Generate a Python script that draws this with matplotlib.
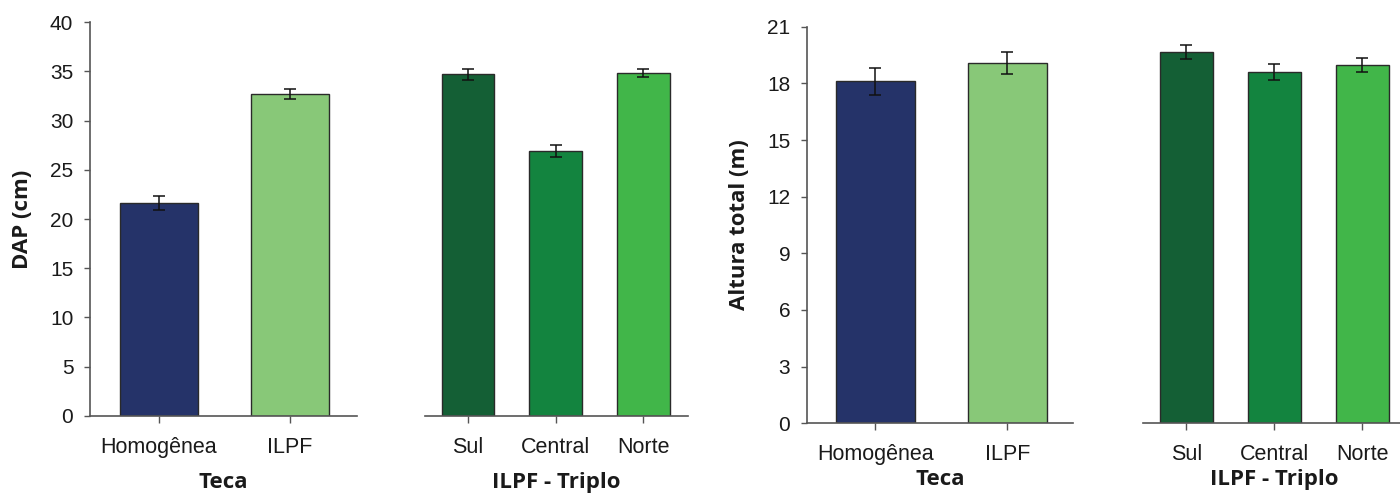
import matplotlib.pyplot as plt

# ── Data ──────────────────────────────────────────────────
teca_cats   = ['Homogênea', 'ILPF']
triplo_cats = ['Sul', 'Central', 'Norte']

dap_teca       = [21.6, 32.7]
dap_teca_err   = [0.7, 0.55]
dap_triplo     = [34.7, 26.9, 34.8]
dap_triplo_err = [0.55, 0.6, 0.4]

alt_teca       = [18.1, 19.1]
alt_teca_err   = [0.7, 0.58]
alt_triplo     = [19.65, 18.6, 18.95]
alt_triplo_err = [0.37, 0.44, 0.37]

dap_ticks = [0, 5, 10, 15, 20, 25, 30, 35, 40]
alt_ticks = [0, 3, 6, 9, 12, 15, 18, 21]

teca_colors   = ['#253369', '#88C878']
triplo_colors = ['#145F35', '#13843F', '#41B649']

# ── Style ─────────────────────────────────────────────────
TICK_FONT = 'Liberation Sans'
BOLD_FONT = 'Open Sans'
AXIS_GRAY = '#555555'
TEXT_COL  = '#1a1a1a'


def draw_panel(ax, cats, vals, errs, colors, xlabel, ylim, xlim,
               yticks=None, ylabel=None, xlabelpad=11):
    x = list(range(len(cats)))
    ax.bar(x, vals, width=0.6, color=colors, edgecolor='#2a2a2a',
           linewidth=1.0, zorder=2)
    ax.errorbar(x, vals, yerr=errs, fmt='none', ecolor='#111111',
                elinewidth=1.1, capsize=4.5, capthick=1.1, zorder=3)
    ax.set_xlim(*xlim)
    ax.set_ylim(*ylim)
    ax.set_xticks(x)
    ax.set_xticklabels(cats, fontsize=15.5, family=TICK_FONT, color=TEXT_COL)
    ax.tick_params(axis='x', length=5, width=1, color=AXIS_GRAY, pad=10)

    for s in ['top', 'right']:
        ax.spines[s].set_visible(False)
    ax.spines['bottom'].set_color(AXIS_GRAY)
    ax.spines['bottom'].set_linewidth(1.2)

    if yticks is None:
        ax.spines['left'].set_visible(False)
        ax.set_yticks([])
    else:
        ax.spines['left'].set_color(AXIS_GRAY)
        ax.spines['left'].set_linewidth(1.2)
        ax.set_yticks(yticks)
        ax.set_yticklabels([str(t) for t in yticks], fontsize=15,
                           family=TICK_FONT, color=TEXT_COL)
        ax.tick_params(axis='y', length=4, width=1, color=AXIS_GRAY, pad=8)

    ax.set_xlabel(xlabel, fontsize=16, family=BOLD_FONT,
                  fontweight='bold', color=TEXT_COL, labelpad=xlabelpad)
    if ylabel:
        ax.set_ylabel(ylabel, fontsize=16, family=BOLD_FONT,
                      fontweight='bold', color=TEXT_COL, labelpad=12)


# ── Figure ────────────────────────────────────────────────
fig = plt.figure(figsize=(14, 4.98), dpi=100)

ax1 = fig.add_axes([0.0643, 0.1647, 0.1907, 0.791])
ax2 = fig.add_axes([0.3036, 0.1647, 0.1879, 0.791])
ax3 = fig.add_axes([0.5764, 0.1500, 0.1900, 0.7964])
ax4 = fig.add_axes([0.8164, 0.1500, 0.1880, 0.7964])

draw_panel(ax1, teca_cats, dap_teca, dap_teca_err, teca_colors, 'Teca',
           (0, 40), (-0.527, 1.511), yticks=dap_ticks, ylabel='DAP (cm)',
           xlabelpad=10)
draw_panel(ax2, triplo_cats, dap_triplo, dap_triplo_err, triplo_colors,
           'ILPF - Triplo', (0, 40), (-0.49, 2.51), xlabelpad=10)
draw_panel(ax3, teca_cats, alt_teca, alt_teca_err, teca_colors, 'Teca',
           (0, 21), (-0.519, 1.496), yticks=alt_ticks,
           ylabel='Altura total (m)', xlabelpad=3)
draw_panel(ax4, triplo_cats, alt_triplo, alt_triplo_err, triplo_colors,
           'ILPF - Triplo', (0, 21), (-0.494, 2.5), xlabelpad=3)

fig.savefig('out.png', dpi=100)
